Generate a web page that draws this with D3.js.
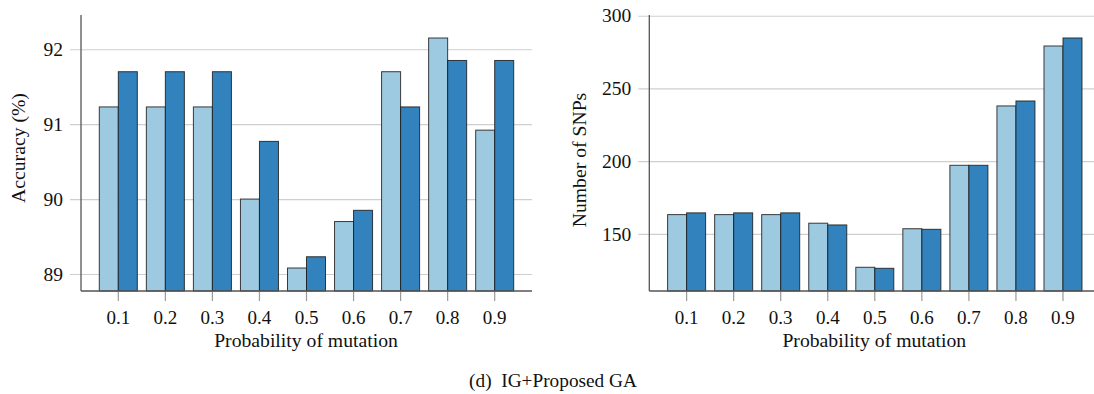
<!DOCTYPE html>
<html>
<head>
<meta charset="utf-8">
<script src="https://cdn.jsdelivr.net/npm/d3@7"></script>
<style>
  html, body { margin: 0; padding: 0; background: #fff; }
  svg { display: block; }
  text { font-family: "Liberation Serif", "Times New Roman", serif; fill: #111; }
</style>
</head>
<body>
<svg id="chart" width="1094" height="394"></svg>
<script>
// Mutation probabilities on the x axis
const categories = ["0.1", "0.2", "0.3", "0.4", "0.5", "0.6", "0.7", "0.8", "0.9"];
const seriesNames = ["light", "dark"];

// Classification accuracy (%)
const accuracyLight = [91.23, 91.23, 91.23, 90.00, 89.08, 89.70, 91.70, 92.15, 90.92];
const accuracyDark  = [91.70, 91.70, 91.70, 90.77, 89.23, 89.85, 91.23, 91.85, 91.85];

// Number of selected SNPs
const snpsLight = [163.3, 163.3, 163.3, 157.4, 127.1, 153.6, 197.2, 238.0, 279.2];
const snpsDark  = [164.5, 164.5, 164.5, 156.2, 126.4, 153.2, 197.2, 241.4, 284.7];

const accuracyTicks = [89, 90, 91, 92];
const snpsTicks = [150, 200, 250, 300];

const colors = { light: "#9ecae1", dark: "#3182bd" };

const svg = d3.select("#chart");

function drawPanel(opts) {
  const { left, right, top, bottom, yDomain, ticks, light, dark, yLabel, yLabelPos } = opts;

  const x = d3.scaleBand()
    .domain(categories)
    .range([left, right])
    .paddingInner(0.192)
    .paddingOuter(0.389);

  const xSub = d3.scaleBand()
    .domain(seriesNames)
    .range([0, x.bandwidth()]);

  const y = d3.scaleLinear().domain(yDomain).range([bottom, top]);

  const g = svg.append("g");

  // horizontal grid lines with outward tick stubs
  const yAxis = g.append("g")
    .attr("transform", `translate(${left},0)`)
    .call(d3.axisLeft(y).tickValues(ticks).tickFormat(d3.format("d"))
      .tickSize(-(right - left)).tickSizeOuter(0).tickPadding(18));
  yAxis.select(".domain").remove();
  yAxis.selectAll(".tick line")
    .attr("x1", -11)
    .attr("stroke", "#cfcfcf")
    .attr("stroke-width", 1.2);
  yAxis.selectAll(".tick text")
    .attr("font-size", 19.5)
    .attr("fill", "#111")
    .attr("font-family", "Liberation Serif, serif");

  // bars
  const rows = categories.map((c, i) => ({ cat: c, light: light[i], dark: dark[i] }));
  const groups = g.append("g").selectAll("g")
    .data(rows)
    .join("g")
    .attr("transform", d => `translate(${x(d.cat)},0)`);
  groups.selectAll("rect")
    .data(d => seriesNames.map(k => ({ key: k, value: d[k] })))
    .join("rect")
    .attr("x", d => xSub(d.key))
    .attr("width", xSub.bandwidth())
    .attr("y", d => y(d.value))
    .attr("height", d => y(yDomain[0]) - y(d.value))
    .attr("fill", d => colors[d.key])
    .attr("stroke", "#1c1c1c")
    .attr("stroke-opacity", 0.85)
    .attr("stroke-width", 1);

  // x axis with centred ticks
  const xAxis = g.append("g")
    .attr("transform", `translate(0,${bottom})`)
    .call(d3.axisBottom(x).tickSize(10).tickSizeOuter(0).tickPadding(10));
  xAxis.select(".domain").remove();
  xAxis.selectAll(".tick line").attr("stroke", "#9a9a9a").attr("stroke-width", 1.2);
  xAxis.selectAll(".tick text")
    .attr("font-size", 19)
    .attr("fill", "#111")
    .attr("font-family", "Liberation Serif, serif");

  // axis lines (left and bottom)
  g.append("line")
    .attr("x1", left).attr("x2", left)
    .attr("y1", top).attr("y2", bottom)
    .attr("stroke", "#555").attr("stroke-width", 1.3);
  g.append("line")
    .attr("x1", left).attr("x2", right)
    .attr("y1", bottom).attr("y2", bottom)
    .attr("stroke", "#555").attr("stroke-width", 1.3);

  // axis titles
  g.append("text")
    .attr("x", (left + right) / 2 - 0.5)
    .attr("y", 346.5)
    .attr("text-anchor", "middle")
    .attr("font-size", 19.7)
    .text("Probability of mutation");

  g.append("text")
    .attr("transform", `translate(${yLabelPos[0]},${yLabelPos[1]}) rotate(-90)`)
    .attr("text-anchor", "middle")
    .attr("font-size", 19.7)
    .text(yLabel);
}

drawPanel({
  left: 81, right: 532, top: 15, bottom: 291,
  yDomain: [88.773, 92.457],
  ticks: accuracyTicks,
  light: accuracyLight, dark: accuracyDark,
  yLabel: "Accuracy (%)",
  yLabelPos: [24.5, 148]
});

drawPanel({
  left: 649.3, right: 1100.3, top: 15, bottom: 291,
  yDomain: [110.8, 300.5],
  ticks: snpsTicks,
  light: snpsLight, dark: snpsDark,
  yLabel: "Number of SNPs",
  yLabelPos: [586, 160]
});

// sub-figure caption
svg.append("text")
  .attr("x", 553)
  .attr("y", 387)
  .attr("text-anchor", "middle")
  .attr("font-size", 19.3)
  .attr("xml:space", "preserve")
  .style("white-space", "pre")
  .text("(d)  IG+Proposed GA");
</script>
</body>
</html>
